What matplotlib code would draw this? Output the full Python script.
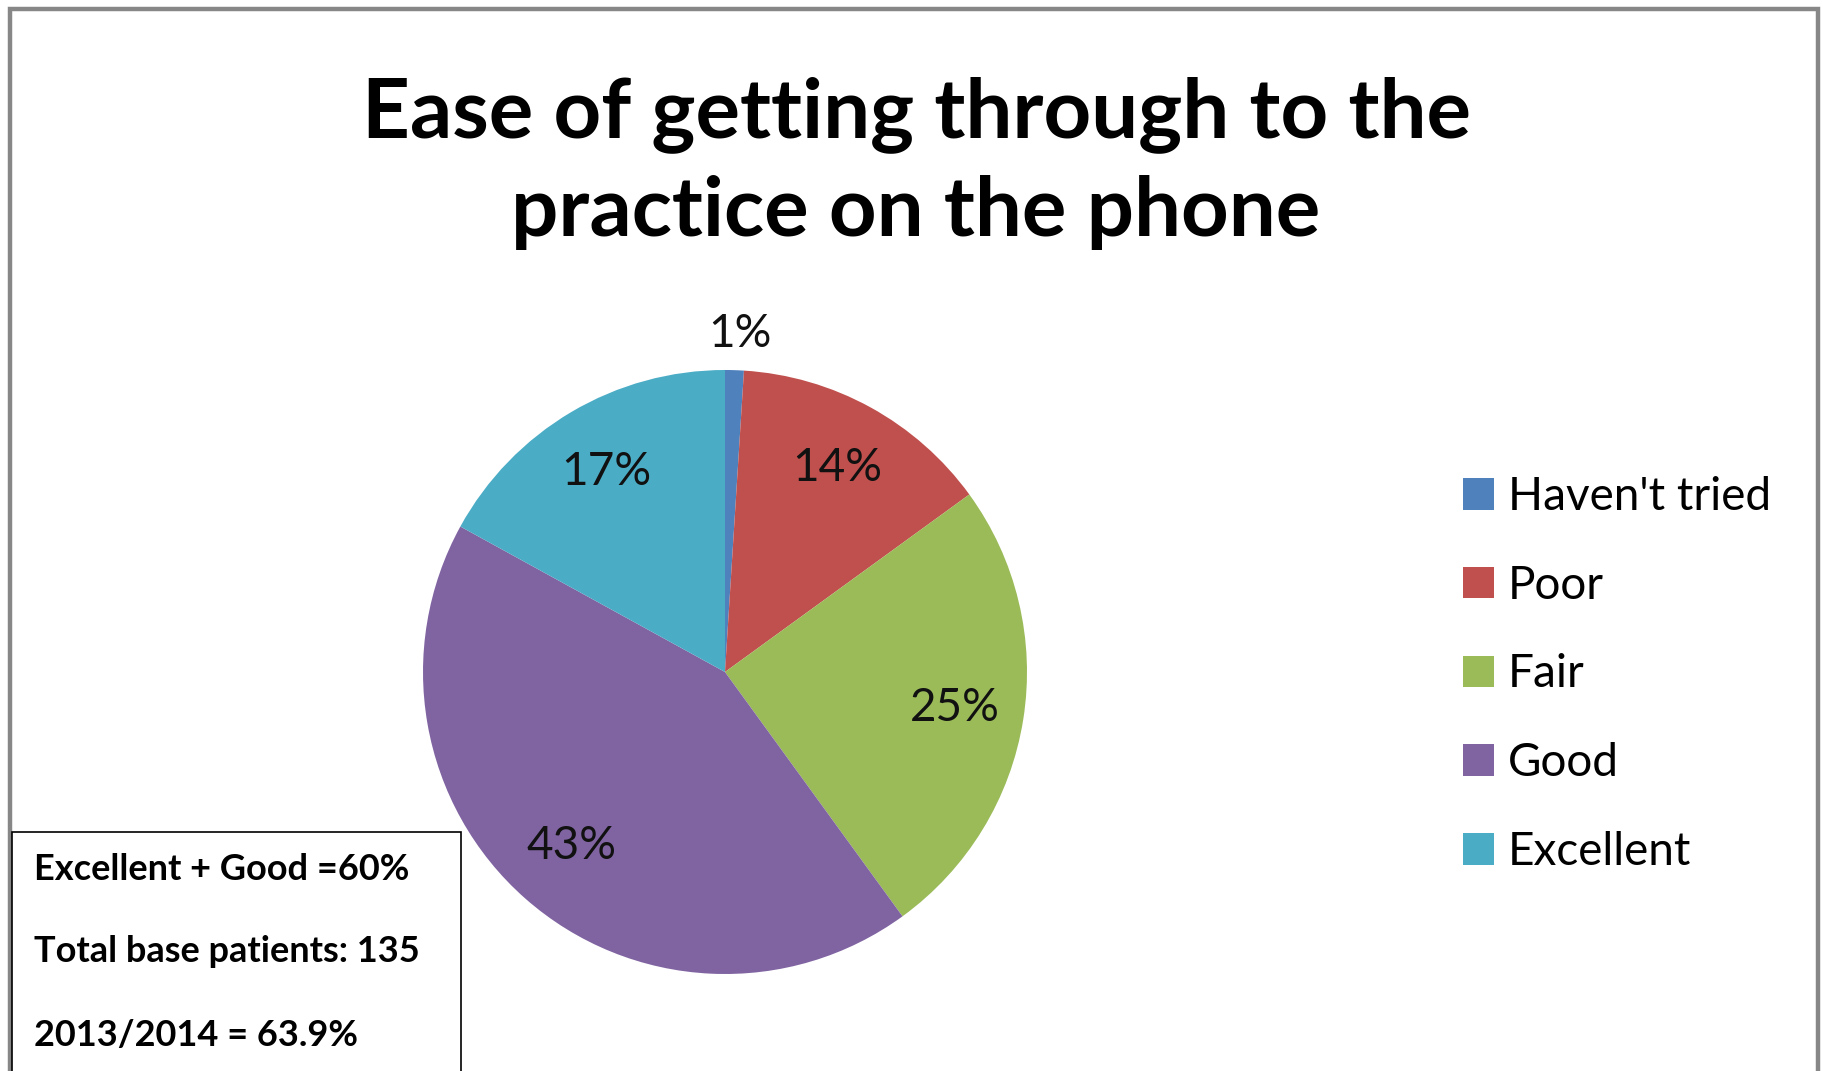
import matplotlib
matplotlib.use("Agg")
import matplotlib.pyplot as plt
from matplotlib.patches import Rectangle

plt.rcParams['font.family'] = ['Lato', 'DejaVu Sans']

categories = ["Haven't tried", 'Poor', 'Fair', 'Good', 'Excellent']
shares = [1, 14, 25, 43, 17]
colours = ['#4F81BD', '#C0504D', '#9BBB59', '#8064A2', '#4BACC6']
notes = ['Excellent + Good =60%', 'Total base patients: 135', '2013/2014 = 63.9%']

W, H = 1823, 1071
fig = plt.figure(figsize=(W / 100, H / 100), dpi=100)

# outer chart frame (bottom runs off the page)
fig.patches.append(Rectangle((10 / W, -0.05), (1818 - 10) / W, (H - 9) / H + 0.05,
                             transform=fig.transFigure, fill=False,
                             edgecolor='#878787', linewidth=3.2))

fig.text(916 / W, 1 - 115 / H, 'Ease of getting through to the', ha='center', va='center',
         fontsize=60, fontweight='bold')
fig.text(916 / W, 1 - 212 / H, 'practice on the phone', ha='center', va='center',
         fontsize=60, fontweight='bold')

cx, cy, r = 725, 672, 302
ax = fig.add_axes([(cx - r) / W, (H - cy - r) / H, 2 * r / W, 2 * r / H])
wedges, texts, autotexts = ax.pie(shares, colors=colours, startangle=90, counterclock=False,
                                  autopct='%d%%', pctdistance=0.77,
                                  textprops={'fontsize': 33, 'color': '#111111'},
                                  wedgeprops={'linewidth': 0})
# the small slice gets its label outside
autotexts[0].set_position((0.05, 1.12))
ax.set_xlim(-1, 1)
ax.set_ylim(-1, 1)
ax.axis('off')

leg = fig.legend(wedges, categories, loc='upper left', bbox_to_anchor=(1440 / W, 1 - 453 / H),
                 frameon=False, fontsize=33, handlelength=0.68, handleheight=0.68,
                 handletextpad=0.3, labelspacing=1.02, borderpad=0)

# summary box in the lower left
fig.patches.append(Rectangle((12 / W, -0.05), (461 - 12) / W, (H - 832) / H + 0.05,
                             transform=fig.transFigure, facecolor='white',
                             edgecolor='black', linewidth=1.2, zorder=5))
for i, line in enumerate(notes):
    fig.text(34 / W, 1 - (869 + 83 * i) / H, line, ha='left', va='center',
             fontsize=26, fontweight='bold', zorder=6)

fig.savefig('out.png', dpi=100)
